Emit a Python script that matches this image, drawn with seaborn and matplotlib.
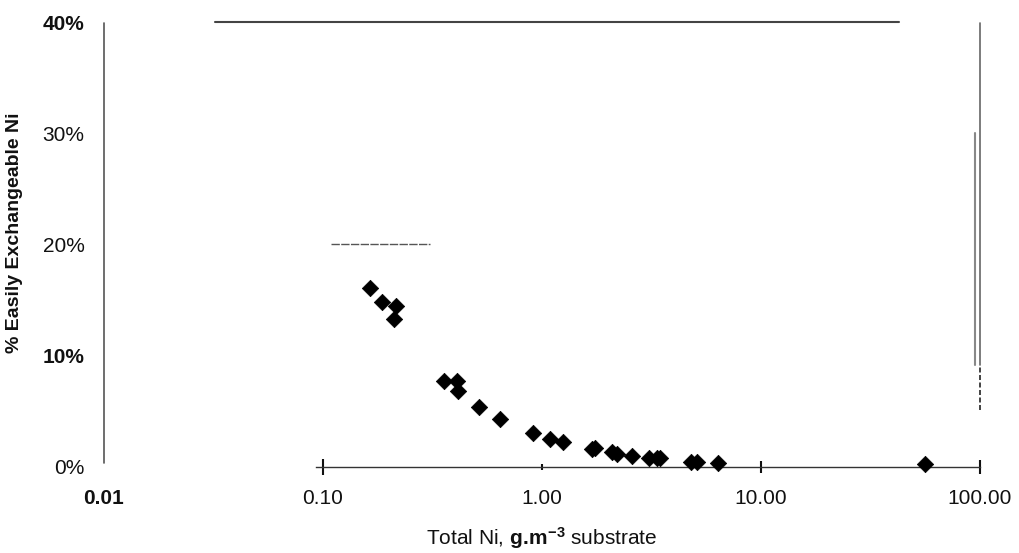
import matplotlib
matplotlib.use("Agg")
import matplotlib.pyplot as plt
import seaborn as sns
import pandas as pd

# data
total_ni = [0.164, 0.186, 0.215, 0.212, 0.357, 0.411, 0.414, 0.517, 0.640, 0.905,
            1.09, 1.25, 1.70, 1.75, 2.08, 2.20, 2.58, 3.07, 3.36, 3.45,
            4.80, 5.12, 6.35, 56.0]
pct_exch = [16.1, 14.8, 14.5, 13.3, 7.7, 7.7, 6.8, 5.4, 4.3, 3.0,
            2.5, 2.2, 1.6, 1.7, 1.3, 1.1, 1.0, 0.8, 0.8, 0.8,
            0.4, 0.4, 0.3, 0.2]
x_ticks = [0.01, 0.1, 1, 10, 100]
x_labels = ["0.01", "0.10", "1.00", "10.00", "100.00"]
y_ticks = [0, 10, 20, 30, 40]
y_labels = ["0%", "10%", "20%", "30%", "40%"]
y_bold = [False, True, False, False, True]
x_bold = [True, False, False, False, False]

sns.set_style("white")
plt.rcParams['font.family'] = ['Liberation Sans', 'DejaVu Sans']
plt.rcParams['mathtext.fontset'] = 'custom'
plt.rcParams['mathtext.rm'] = 'Liberation Sans'
plt.rcParams['mathtext.bf'] = 'Liberation Sans:bold'

df = pd.DataFrame({"x": total_ni, "y": pct_exch})

fig = plt.figure(figsize=(10.2, 5.53), dpi=100)
ax = fig.add_axes([104/1020, 1-466.7/553, 876/1020, 444.2/553])

sns.scatterplot(data=df, x="x", y="y", marker="D", s=70, color="black",
                edgecolor="black", linewidth=0.5, ax=ax, zorder=5, clip_on=False)

ax.set_xscale("log")
ax.set_xlim(0.01, 100)
ax.set_ylim(0, 40)
ax.minorticks_off()

ax.set_xticks(x_ticks)
ax.set_xticklabels(x_labels)
ax.set_yticks(y_ticks)
ax.set_yticklabels(y_labels)
for lab, b in zip(ax.get_xticklabels(), x_bold):
    lab.set_fontweight("bold" if b else "normal")
for lab, b in zip(ax.get_yticklabels(), y_bold):
    lab.set_fontweight("bold" if b else "normal")

ax.tick_params(axis="x", bottom=True, direction="inout", length=12, width=1.5,
               color="#111111", labelsize=15, pad=10, labelcolor="#111111")
ax.tick_params(axis="y", left=False, length=0, labelsize=15, pad=14, labelcolor="#111111")
xt = ax.xaxis.get_major_ticks()
xt[0].tick1line.set_visible(False)
xt[2].tick1line.set_markersize(4)
xt[3].tick1line.set_markersize(8)
xt[4].tick1line.set_markersize(10)

for s in ["top", "right", "left", "bottom"]:
    ax.spines[s].set_visible(False)
ax.spines["bottom"].set_visible(True)
ax.spines["bottom"].set_bounds(0.0925, 100)
ax.spines["bottom"].set_color("#333333")
ax.spines["bottom"].set_linewidth(1.0)

# scan artefacts / frame fragments
tr = ax.transAxes
ax.plot([0.0, 0.0], [0.008, 1.0], transform=tr, color="#555555", lw=1.2, clip_on=False)
ax.plot([0.127, 0.908], [1.002, 1.002], transform=tr, color="#444444", lw=1.5, clip_on=False)
ax.plot([1.0, 1.0], [0.229, 1.0], transform=tr, color="#666666", lw=1.2, clip_on=False)
ax.plot([1.0, 1.0], [0.128, 0.229], transform=tr, color="#222222", lw=1.2,
        ls=(0, (3, 1.5)), clip_on=False)
ax.plot([0.9943, 0.9943], [0.229, 0.751], transform=tr, color="#888888", lw=1.5, clip_on=False)
ax.plot([0.259, 0.372], [0.501, 0.501], transform=tr, color="#555555", lw=1.0,
        ls=(0, (6, 1)), clip_on=False)

ax.set_xlabel(r"Total Ni, $\mathbf{g.\!m^{-3}}$ substrate", fontsize=15,
              color="#111111")
ax.xaxis.set_label_coords(0.50, -0.132)
ax.set_ylabel("% Easily Exchangeable Ni", fontsize=14, fontweight="bold",
              color="#111111")
ax.yaxis.set_label_coords(-0.0925, 0.527)

fig.savefig("out.png", dpi=100)
